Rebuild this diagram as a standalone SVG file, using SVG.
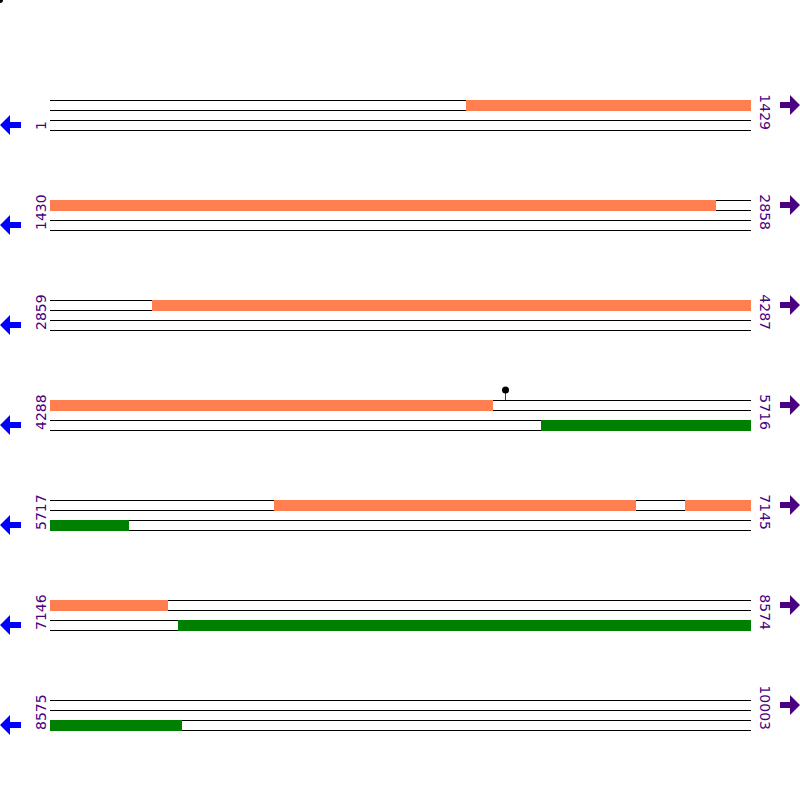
<svg xmlns="http://www.w3.org/2000/svg" width="800" height="800" viewBox="0 0 800 800">
<defs>
<style>
.ln{stroke:#000;stroke-width:1;fill:none}
.or{fill:#FF7F50}
.gr{fill:#008000}
.lbl{font-family:"DejaVu Sans",Verdana,sans-serif;font-size:14px;fill:#4B0082}
.la{fill:#0000FF}
.ra{fill:#4B0082}
</style>
<g id="rowlines">
<path class="ln" d="M50 0.5H751M50 10.5H751M50 20.5H751M50 30.5H751"/>
</g>
<path id="larrow" d="M0 25L10 15V22H21V28H10V35Z"/>
<path id="rarrow" d="M800 5L790 -5V2H780V8H790V15Z"/>
</defs>
<rect width="800" height="800" fill="#fff"/>
<circle cx="0" cy="0" r="3" fill="#000"/>
<g id="connectors">
<use href="#rowlines" y="100"/>
<use href="#rowlines" y="200"/>
<use href="#rowlines" y="300"/>
<use href="#rowlines" y="400"/>
<use href="#rowlines" y="500"/>
<use href="#rowlines" y="600"/>
<use href="#rowlines" y="700"/>
</g>
<g id="row1">
<rect class="or" x="466" y="100" width="285" height="11"/>
<text class="lbl" transform="translate(46 130) rotate(-90)">1</text>
<text class="lbl" text-anchor="end" transform="translate(760 130) rotate(90)">1429</text>
<use class="la" href="#larrow" y="100"/>
<use class="ra" href="#rarrow" y="100"/>
</g>
<g id="row2">
<rect class="or" x="50" y="200" width="666" height="11"/>
<text class="lbl" transform="translate(46 230) rotate(-90)">1430</text>
<text class="lbl" text-anchor="end" transform="translate(760 230) rotate(90)">2858</text>
<use class="la" href="#larrow" y="200"/>
<use class="ra" href="#rarrow" y="200"/>
</g>
<g id="row3">
<rect class="or" x="152" y="300" width="599" height="11"/>
<text class="lbl" transform="translate(46 330) rotate(-90)">2859</text>
<text class="lbl" text-anchor="end" transform="translate(760 330) rotate(90)">4287</text>
<use class="la" href="#larrow" y="300"/>
<use class="ra" href="#rarrow" y="300"/>
</g>
<g id="row4">
<rect class="or" x="50" y="400" width="443" height="11"/>
<rect class="gr" x="541" y="420" width="210" height="11"/>
<line x1="505.5" y1="392" x2="505.5" y2="400" stroke="#E00000" stroke-width="1"/>
<circle cx="505.5" cy="390" r="3.5" fill="#000"/>
<text class="lbl" transform="translate(46 430) rotate(-90)">4288</text>
<text class="lbl" text-anchor="end" transform="translate(760 430) rotate(90)">5716</text>
<use class="la" href="#larrow" y="400"/>
<use class="ra" href="#rarrow" y="400"/>
</g>
<g id="row5">
<rect class="or" x="274" y="500" width="362" height="11"/>
<rect class="or" x="685" y="500" width="66" height="11"/>
<rect class="gr" x="50" y="520" width="79" height="11"/>
<text class="lbl" transform="translate(46 530) rotate(-90)">5717</text>
<text class="lbl" text-anchor="end" transform="translate(760 530) rotate(90)">7145</text>
<use class="la" href="#larrow" y="500"/>
<use class="ra" href="#rarrow" y="500"/>
</g>
<g id="row6">
<rect class="or" x="50" y="600" width="118" height="11"/>
<rect class="gr" x="178" y="620" width="573" height="11"/>
<text class="lbl" transform="translate(46 630) rotate(-90)">7146</text>
<text class="lbl" text-anchor="end" transform="translate(760 630) rotate(90)">8574</text>
<use class="la" href="#larrow" y="600"/>
<use class="ra" href="#rarrow" y="600"/>
</g>
<g id="row7">
<rect class="gr" x="50" y="720" width="132" height="11"/>
<text class="lbl" transform="translate(46 730) rotate(-90)">8575</text>
<text class="lbl" text-anchor="end" transform="translate(760 730) rotate(90)">10003</text>
<use class="la" href="#larrow" y="700"/>
<use class="ra" href="#rarrow" y="700"/>
</g>
</svg>
